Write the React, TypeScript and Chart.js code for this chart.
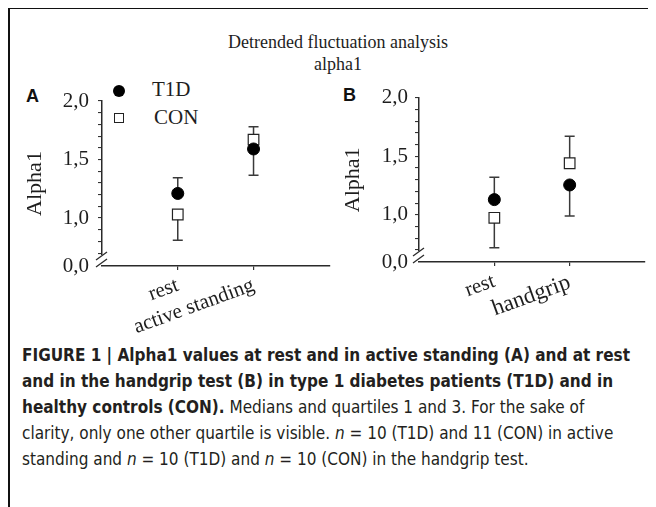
import React, { useEffect, useRef } from 'react';
import { Chart, registerables } from 'chart.js';

Chart.register(...registerables);

// ---------- data ----------
const categoriesA = ['rest', 'active standing'];
const categoriesB = ['rest', 'handgrip'];

const t1dMedianA = [1.21, 1.59];
const t1dQuartileA = [1.345, 1.365];
const conMedianA = [1.03, 1.67];
const conQuartileA = [0.81, 1.78];

const t1dMedianB = [1.13, 1.255];
const t1dQuartileB = [1.32, 0.99];
const conMedianB = [0.975, 1.44];
const conQuartileB = [0.72, 1.67];

const yMinorTicks = [0.7, 0.8, 0.9, 1.0, 1.1, 1.2, 1.3, 1.4, 1.5, 1.6, 1.7, 1.8, 1.9, 2.0];
const yLabeledTicks = [1.0, 1.5, 2.0];
const yLabeledText = ['1,0', '1,5', '2,0'];
const yBreakLabel = '0,0';

const seriesNames = ['T1D', 'CON'];

const SERIF = "'Liberation Serif', 'Times New Roman', serif";
const SANS = "'Liberation Sans', Arial, sans-serif";
const INK = '#1e1e1e';
const FS = 21;

type PanelCfg = {
  categories: string[];
  xLabelSizes: number[];
  t1dMedian: number[];
  t1dQuartile: number[];
  conMedian: number[];
  conQuartile: number[];
  yMin: number;
  yAxisWidth: number;
  xAxisHeight: number;
  padTop: number;
  padRight: number;
  titlePad: number;
  labelPad: number;
};

const axisBreak = {
  id: 'axisBreak',
  afterDraw(chart: any) {
    const { ctx, chartArea } = chart;
    const x0 = chartArea.left;
    const yb = chartArea.bottom;
    ctx.save();
    ctx.fillStyle = '#ffffff';
    ctx.fillRect(x0 - 2, yb - 11, 4, 10);
    ctx.strokeStyle = '#2a2a2a';
    ctx.lineWidth = 1.3;
    for (const dy of [10, 3]) {
      ctx.beginPath();
      ctx.moveTo(x0 - 6, yb - dy + 4);
      ctx.lineTo(x0 + 5, yb - dy - 4);
      ctx.stroke();
    }
    ctx.restore();
  },
};

function buildConfig(p: PanelCfg): any {
  const whiskers: any[] = [];
  const addWhiskers = (med: number[], q: number[]) => {
    p.categories.forEach((_, i) => {
      whiskers.push({
        data: [
          { x: i + 1, y: med[i] },
          { x: i + 1, y: q[i] },
        ],
        showLine: true,
        borderColor: '#3a3a3a',
        borderWidth: 1.5,
        pointStyle: 'line',
        pointRadius: (ctx: any) => (ctx.dataIndex === 1 ? 5 : 0),
        pointBorderColor: '#3a3a3a',
        pointBorderWidth: 1.5,
        order: 3,
      });
    });
  };
  addWhiskers(p.t1dMedian, p.t1dQuartile);
  addWhiskers(p.conMedian, p.conQuartile);

  const near = (a: number, b: number) => Math.abs(a - b) < 1e-6;

  return {
    type: 'scatter',
    data: {
      datasets: [
        {
          label: seriesNames[0],
          data: p.categories.map((_, i) => ({ x: i + 1, y: p.t1dMedian[i] })),
          pointStyle: 'circle',
          pointRadius: 6,
          backgroundColor: '#000',
          borderColor: '#000',
          borderWidth: 1,
          order: 0,
        },
        {
          label: seriesNames[1],
          data: p.categories.map((_, i) => ({ x: i + 1, y: p.conMedian[i] })),
          pointStyle: 'rect',
          pointRadius: 7.5,
          backgroundColor: '#fff',
          borderColor: '#222',
          borderWidth: 1.2,
          order: 1,
        },
        ...whiskers,
      ],
    },
    options: {
      animation: false,
      responsive: false,
      events: [],
      layout: { padding: { top: p.padTop, right: p.padRight, left: 0, bottom: 0 } },
      plugins: { legend: { display: false }, tooltip: { enabled: false } },
      scales: {
        x: {
          type: 'linear',
          min: 0,
          max: p.categories.length + 1,
          afterBuildTicks: (scale: any) => {
            scale.ticks = p.categories.map((_, i) => ({ value: i + 1 }));
          },
          afterFit: (scale: any) => {
            scale.height = p.xAxisHeight;
          },
          grid: { display: true, drawOnChartArea: false, drawTicks: true, tickLength: 4, color: '#333', lineWidth: 1.2 },
          border: { display: true, color: '#2a2a2a', width: 1.5 },
          ticks: {
            autoSkip: false,
            minRotation: 20,
            maxRotation: 20,
            padding: 3,
            color: INK,
            font: (ctx: any) => ({ family: SERIF, size: p.xLabelSizes[ctx.index] ?? FS }),
            callback: (v: number) => p.categories[Math.round(v) - 1] ?? '',
          },
        },
        y: {
          type: 'linear',
          min: p.yMin,
          max: 2.0,
          afterBuildTicks: (scale: any) => {
            scale.ticks = [{ value: p.yMin }, ...yMinorTicks.map((v) => ({ value: v }))];
          },
          afterFit: (scale: any) => {
            scale.width = p.yAxisWidth;
          },
          grid: {
            display: true,
            drawOnChartArea: false,
            drawTicks: true,
            tickLength: 4,
            lineWidth: 1.1,
            color: (ctx: any) => (ctx.tick && near(ctx.tick.value, p.yMin) ? 'rgba(0,0,0,0)' : '#333'),
          },
          border: { display: true, color: '#2a2a2a', width: 1.5 },
          title: {
            display: true,
            text: 'Alpha1',
            color: INK,
            font: { family: SERIF, size: FS + 1 },
            padding: { top: p.titlePad, bottom: 0 },
          },
          ticks: {
            autoSkip: false,
            padding: p.labelPad,
            color: INK,
            font: { family: SERIF, size: FS },
            callback: (v: number) => {
              if (near(v, p.yMin)) return yBreakLabel;
              const idx = yLabeledTicks.findIndex((t) => near(t, v));
              return idx >= 0 ? yLabeledText[idx] : '';
            },
          },
        },
      },
    },
    plugins: [axisBreak],
  };
}

function Panel({ cfg, w, h, style }: { cfg: PanelCfg; w: number; h: number; style: React.CSSProperties }) {
  const ref = useRef<HTMLCanvasElement | null>(null);
  useEffect(() => {
    if (!ref.current) return;
    const chart = new Chart(ref.current, buildConfig(cfg));
    return () => chart.destroy();
  }, []);
  return <canvas ref={ref} width={w} height={h} style={{ position: 'absolute', width: w, height: h, ...style }} />;
}

const panelA: PanelCfg = {
  categories: categoriesA,
  xLabelSizes: [FS, FS],
  t1dMedian: t1dMedianA,
  t1dQuartile: t1dQuartileA,
  conMedian: conMedianA,
  conQuartile: conQuartileA,
  yMin: 0.59,
  yAxisWidth: 94,
  xAxisHeight: 74,
  padTop: 23,
  padRight: 8,
  titlePad: 14,
  labelPad: 9,
};

const panelB: PanelCfg = {
  categories: categoriesB,
  xLabelSizes: [FS, 23],
  t1dMedian: t1dMedianB,
  t1dQuartile: t1dQuartileB,
  conMedian: conMedianB,
  conQuartile: conQuartileB,
  yMin: 0.598,
  yAxisWidth: 81,
  xAxisHeight: 78,
  padTop: 19,
  padRight: 11,
  titlePad: 2,
  labelPad: 7,
};

const captionBase: React.CSSProperties = {
  position: 'absolute',
  left: 14,
  top: 335,
  fontFamily: "'Liberation Sans Narrow', 'DejaVu Sans Condensed', 'Liberation Sans', Arial, sans-serif",
  fontSize: 17,
  lineHeight: '26px',
  color: '#231f20',
  whiteSpace: 'nowrap',
};

export default function App() {
  return (
    <div style={{ position: 'relative', width: 648, height: 500, marginTop: -1, background: '#fff' }}>
      <div style={{ position: 'absolute', left: 0, top: 0, width: 648, height: 1.5, background: '#111' }} />
      <div style={{ position: 'absolute', left: 0, top: 0, width: 1.5, height: 500, background: '#111' }} />

      <div
        style={{
          position: 'absolute',
          left: 0,
          width: 660,
          top: 24,
          textAlign: 'center',
          fontFamily: SERIF,
          fontSize: 18,
          lineHeight: '22px',
          color: INK,
        }}
      >
        Detrended fluctuation analysis
        <br />
        alpha1
      </div>

      <div style={{ position: 'absolute', left: 18, top: 79, fontFamily: SANS, fontWeight: 700, fontSize: 18, color: '#111' }}>A</div>
      <div style={{ position: 'absolute', left: 335, top: 78, fontFamily: SANS, fontWeight: 700, fontSize: 18, color: '#111' }}>B</div>

      {/* legend */}
      <div style={{ position: 'absolute', left: 105, top: 78, width: 12, height: 12, borderRadius: '50%', background: '#000' }} />
      <div style={{ position: 'absolute', left: 144, top: 70, fontFamily: SERIF, fontSize: FS, color: INK, lineHeight: '25px' }}>{seriesNames[0]}</div>
      <div style={{ position: 'absolute', left: 106, top: 106, width: 8, height: 8, border: '1.2px solid #222', background: '#fff' }} />
      <div style={{ position: 'absolute', left: 146, top: 98, fontFamily: SERIF, fontSize: FS, color: INK, lineHeight: '25px' }}>{seriesNames[1]}</div>

      <Panel cfg={panelA} w={330} h={262} style={{ left: 0, top: 71 }} />
      <Panel cfg={panelB} w={318} h={262} style={{ left: 330, top: 71 }} />

      <div style={captionBase}>
        <b>FIGURE 1 | Alpha1 values at rest and in active standing (A) and at rest</b>
        <br />
        <b>and in the handgrip test (B) in type 1 diabetes patients (T1D) and in</b>
        <br />
        <b>healthy controls (CON).</b> Medians and quartiles 1 and 3. For the sake of
        <br />
        clarity, only one other quartile is visible. <i>n</i> = 10 (T1D) and 11 (CON) in active
        <br />
        standing and <i>n</i> = 10 (T1D) and <i>n</i> = 10 (CON) in the handgrip test.
      </div>
    </div>
  );
}
